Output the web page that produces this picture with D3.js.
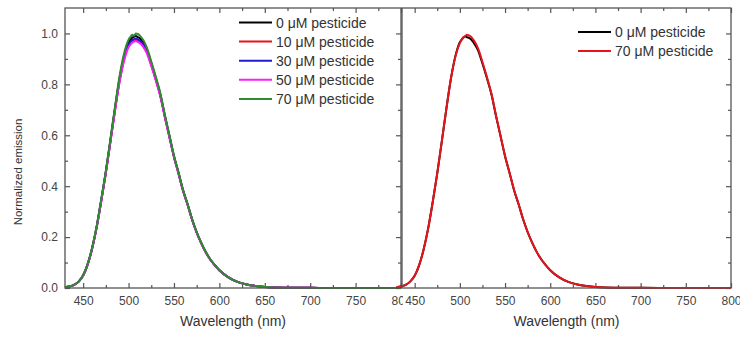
<!DOCTYPE html>
<html lang="en">
<head>
<meta charset="utf-8">
<title>Normalized emission</title>
<script src="https://d3js.org/d3.v7.min.js"></script>
<style>
  body { margin: 0; background: #fff; font-family: Arial, "Liberation Sans", Helvetica, sans-serif; }
  .tick text { fill: #444; font-size: 12px; }
</style>
</head>
<body>
<script>
// wavelength grid (nm) shared by all traces
var wavelength = [430,435,440,445,450,455,460,465,470,475,480,485,490,495,500,502,504,506,508,510,512,514,516,520,525,530,535,540,545,550,555,560,565,570,575,580,585,590,595,600,610,620,630,640,650,660,680,700,750,800];

// left panel series
var c0  = [0.003,0.006,0.012,0.025,0.05,0.094,0.158,0.243,0.347,0.457,0.58,0.705,0.822,0.91,0.965,0.975,0.983,0.987,0.99,0.986,0.982,0.975,0.965,0.938,0.884,0.825,0.76,0.676,0.597,0.518,0.453,0.384,0.329,0.269,0.219,0.177,0.141,0.112,0.09,0.07,0.042,0.024,0.014,0.008,0.004,0.002,0.001,0.0005,0,0];
var c10 = [0.003,0.006,0.012,0.025,0.049,0.093,0.157,0.241,0.344,0.453,0.575,0.698,0.812,0.898,0.952,0.962,0.97,0.973,0.975,0.972,0.968,0.962,0.953,0.928,0.876,0.818,0.754,0.672,0.593,0.515,0.45,0.382,0.327,0.268,0.218,0.176,0.14,0.112,0.089,0.07,0.042,0.024,0.014,0.008,0.004,0.002,0.001,0.0005,0,0];
var c30 = [0.003,0.006,0.012,0.025,0.049,0.093,0.157,0.242,0.345,0.455,0.577,0.7,0.815,0.902,0.956,0.966,0.974,0.978,0.98,0.977,0.973,0.966,0.957,0.931,0.879,0.82,0.756,0.674,0.595,0.516,0.451,0.383,0.328,0.268,0.218,0.176,0.141,0.112,0.09,0.07,0.042,0.024,0.014,0.008,0.004,0.002,0.001,0.0005,0,0];
var c50 = [0.003,0.006,0.012,0.025,0.049,0.092,0.156,0.24,0.342,0.451,0.572,0.694,0.807,0.892,0.946,0.956,0.964,0.968,0.97,0.967,0.963,0.957,0.948,0.923,0.872,0.815,0.752,0.67,0.592,0.514,0.449,0.381,0.327,0.267,0.218,0.176,0.14,0.111,0.089,0.069,0.042,0.024,0.014,0.008,0.004,0.002,0.001,0.0005,0,0];
var c70 = [0.003,0.006,0.012,0.025,0.05,0.095,0.16,0.245,0.35,0.46,0.585,0.71,0.83,0.92,0.975,0.986,0.995,0.991,1.0,0.998,0.993,0.985,0.975,0.945,0.89,0.83,0.765,0.68,0.6,0.52,0.455,0.385,0.33,0.27,0.22,0.178,0.142,0.113,0.09,0.07,0.042,0.024,0.014,0.008,0.004,0.002,0.001,0.0005,0,0];

// right panel series
var r0  = [0.003,0.006,0.012,0.025,0.048,0.09,0.152,0.235,0.338,0.45,0.575,0.702,0.82,0.91,0.966,0.976,0.984,0.988,0.985,0.983,0.978,0.97,0.96,0.935,0.882,0.824,0.76,0.676,0.597,0.518,0.452,0.384,0.329,0.27,0.22,0.178,0.142,0.113,0.09,0.07,0.042,0.024,0.014,0.008,0.004,0.002,0.001,0.0005,0,0];
var r70 = [0.003,0.006,0.012,0.025,0.048,0.09,0.152,0.235,0.338,0.45,0.575,0.702,0.82,0.908,0.962,0.975,0.985,0.99,0.995,0.992,0.988,0.98,0.97,0.942,0.888,0.828,0.763,0.678,0.598,0.519,0.453,0.385,0.33,0.27,0.22,0.178,0.142,0.113,0.09,0.07,0.042,0.024,0.014,0.008,0.004,0.002,0.001,0.0005,0,0];

var leftNames  = ["0 \u03bcM pesticide","10 \u03bcM pesticide","30 \u03bcM pesticide","50 \u03bcM pesticide","70 \u03bcM pesticide"];
var rightNames = ["0 \u03bcM pesticide","70 \u03bcM pesticide"];

var xMajor = [450,500,550,600,650,700,750,800];
var xMinor = [475,525,575,625,675,725,775];
var yMajor = [0,0.2,0.4,0.6,0.8,1.0];
var yMinor = [0.1,0.3,0.5,0.7,0.9];

var w = 740, h = 337;
var plotTop = 8, plotBottom = 288;
var axisColor = "#555";

var svg = d3.select("body").append("svg")
  .attr("width", w)
  .attr("height", h);

var yScale = d3.scaleLinear().domain([0, 1.1]).range([plotBottom, plotTop]);

function drawPanel(opt) {
  var g = svg.append("g");
  var x = d3.scaleLinear().domain(opt.domain).range(opt.range);

  if (opt.background) {
    // covers the spill of the left panel's last tick label
    g.append("rect")
      .attr("x", opt.range[0] + 1).attr("y", 0)
      .attr("width", w - opt.range[0]).attr("height", 312)
      .attr("fill", "#fff");
  }

  //bottom axis, ticks inward
  g.append("g")
    .attr("transform", "translate(0," + plotBottom + ")")
    .call(d3.axisBottom(x).tickValues(xMajor).tickSize(-5).tickPadding(8).tickFormat(d3.format("d")));
  g.append("g")
    .attr("transform", "translate(0," + plotBottom + ")")
    .call(d3.axisBottom(x).tickValues(xMinor).tickSize(-3).tickFormat(""));
  //top
  g.append("g")
    .attr("transform", "translate(0," + plotTop + ")")
    .call(d3.axisTop(x).tickValues(xMajor).tickSize(-5).tickFormat(""));
  g.append("g")
    .attr("transform", "translate(0," + plotTop + ")")
    .call(d3.axisTop(x).tickValues(xMinor).tickSize(-3).tickFormat(""));

  //left
  if (opt.leftAxis) {
    g.append("g")
      .attr("transform", "translate(" + opt.range[0] + ",0)")
      .call(d3.axisLeft(yScale).tickValues(yMajor).tickSize(-5).tickPadding(7).tickFormat(d3.format(".1f")));
    g.append("g")
      .attr("transform", "translate(" + opt.range[0] + ",0)")
      .call(d3.axisLeft(yScale).tickValues(yMinor).tickSize(-3).tickFormat(""));
  }
  //right
  g.append("g")
    .attr("transform", "translate(" + opt.range[1] + ",0)")
    .call(d3.axisRight(yScale).tickValues(yMajor).tickSize(-5).tickFormat(""));
  g.append("g")
    .attr("transform", "translate(" + opt.range[1] + ",0)")
    .call(d3.axisRight(yScale).tickValues(yMinor).tickSize(-3).tickFormat(""));

  g.selectAll(".domain").remove();
  g.selectAll(".tick line").attr("stroke", axisColor).attr("stroke-width", 1.2);

  var line = d3.line()
    .x(function(d, i) { return x(wavelength[i]); })
    .y(function(d) { return yScale(d); })
    .curve(d3.curveMonotoneX);

  opt.series.forEach(function(s) {
    g.append("path")
      .datum(s.values)
      .attr("d", line)
      .attr("fill", "none")
      .attr("stroke", s.color)
      .attr("stroke-width", 2);
  });

  //frame
  g.append("rect")
    .attr("x", opt.range[0]).attr("y", plotTop)
    .attr("width", opt.range[1] - opt.range[0]).attr("height", plotBottom - plotTop)
    .attr("fill", "none")
    .attr("stroke", axisColor)
    .attr("stroke-width", 1.3);

  //legend
  opt.series.forEach(function(s, i) {
    var ly = opt.legend.y + i * 19.1;
    g.append("line")
      .attr("x1", opt.legend.x).attr("x2", opt.legend.x + 33)
      .attr("y1", ly).attr("y2", ly)
      .attr("stroke", s.color).attr("stroke-width", 2);
    g.append("text")
      .attr("x", opt.legend.x + 37).attr("y", ly + 5)
      .attr("font-size", "14px")
      .attr("fill", "#333")
      .text(s.name);
  });

  //x title
  g.append("text")
    .attr("x", (opt.range[0] + opt.range[1]) / 2)
    .attr("y", 326)
    .attr("text-anchor", "middle")
    .attr("font-size", "14px")
    .attr("fill", "#333")
    .text("Wavelength (nm)");
}

var leftColors = ["#000000", "#e8141b", "#1c1cd8", "#ff1aff", "#2e8b2e"];
var leftValues = [c0, c10, c30, c50, c70];

drawPanel({
  domain: [430, 800],
  range: [65, 401],
  leftAxis: true,
  background: false,
  legend: { x: 239, y: 22.5 },
  series: leftValues.map(function(v, i) { return { values: v, color: leftColors[i], name: leftNames[i] }; })
});

drawPanel({
  domain: [436, 800],
  range: [402, 731],
  leftAxis: false,
  background: true,
  legend: { x: 578, y: 32 },
  series: [
    { values: r0, color: "#000000", name: rightNames[0] },
    { values: r70, color: "#e8141b", name: rightNames[1] }
  ]
});

//y title
svg.append("text")
  .attr("transform", "translate(22,172) rotate(-90)")
  .attr("text-anchor", "middle")
  .attr("font-size", "11.5px")
  .attr("fill", "#333")
  .text("Normalized emission");
</script>
</body>
</html>
